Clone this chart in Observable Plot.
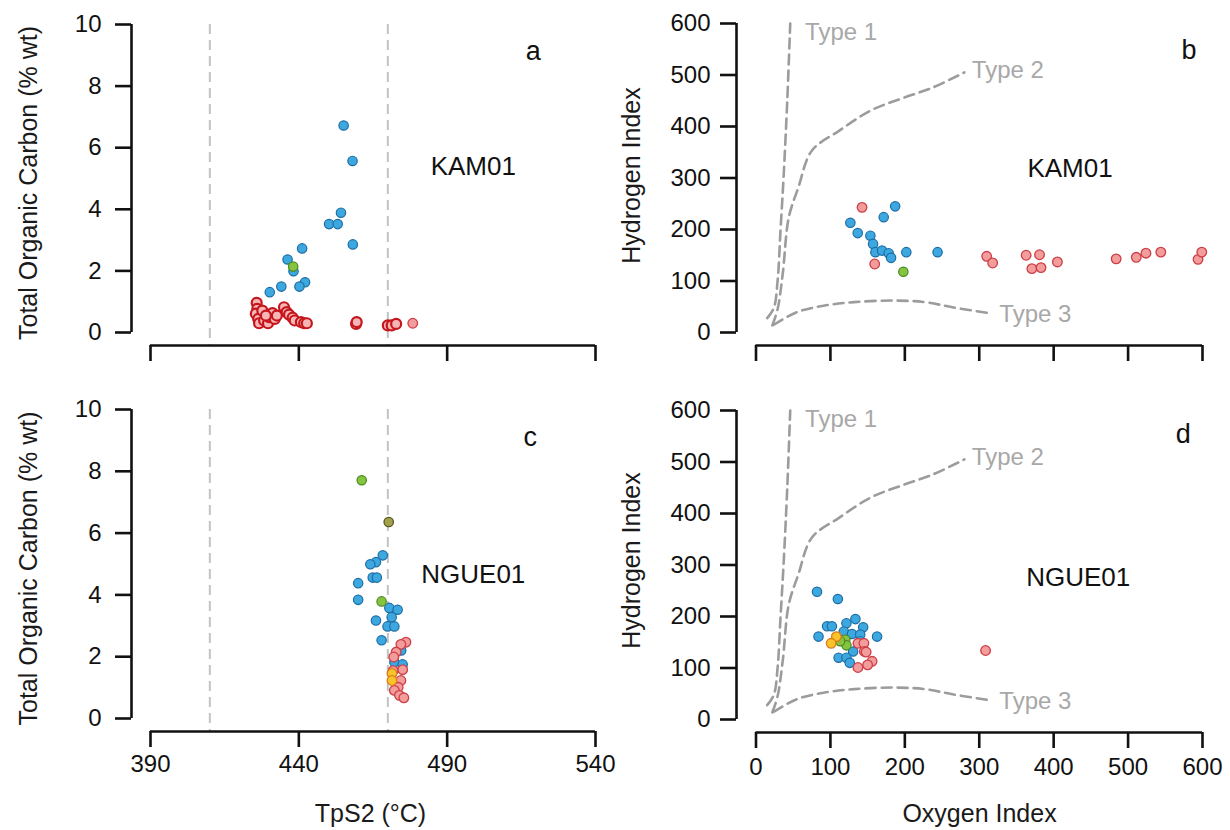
<!DOCTYPE html>
<html><head><meta charset="utf-8">
<script src="https://cdn.jsdelivr.net/npm/d3@7"></script>
<script src="https://cdn.jsdelivr.net/npm/@observablehq/plot@0.6"></script>
<style>
body{margin:0;background:#fff;}
#wrap{position:relative;width:1230px;height:830px;overflow:hidden;}
#wrap svg{position:absolute;}
</style></head><body><div id="wrap"></div>
<script>
// ---------- axis ticks ----------
const tpsTicks = [390, 440, 490, 540];
const tocTicks = [0, 2, 4, 6, 8, 10];
const oiTicks = [0, 100, 200, 300, 400, 500, 600];
const hiTicks = [0, 100, 200, 300, 400, 500, 600];
const tpsRefLines = [410, 470];

// ---------- panel a: KAM01, TpS2 (°C) vs TOC (% wt) ----------
const kamTocBlue = [[455.1,6.72],[458.1,5.57],[454.2,3.89],[450.2,3.52],[453.1,3.52],[458.2,2.86],[441.1,2.73],[436.2,2.37],[438.2,1.99],[442.1,1.63],[440.2,1.49],[434.1,1.49],[430.2,1.31]];
const kamTocGreen = [[438.1,2.14]];
const kamTocRed = [[425.8,0.96],[426.0,0.77],[425.5,0.61],[426.3,0.44],[426.6,0.30],[427.7,0.71],[428.3,0.39],[429.6,0.30],[430.0,0.50],[431.1,0.63],[431.9,0.44],[432.6,0.55],[428.9,0.55],[435.0,0.82],[435.9,0.66],[436.7,0.58],[437.9,0.48],[438.6,0.39],[440.7,0.34],[441.8,0.30],[442.7,0.30],[459.3,0.28],[459.5,0.34],[470.0,0.23],[471.3,0.23],[472.8,0.28]];
const kamTocPink = [[478.4,0.30]];

// ---------- panel b: KAM01, Oxygen Index vs Hydrogen Index ----------
const kamHiBlue = [[187,245],[171.6,224],[126.8,213],[136.7,193],[153.7,188],[157.3,172],[160.4,156],[169.4,159],[178.3,154],[181.5,145],[202,156],[244,156]];
const kamHiGreen = [[198,118]];
const kamHiPink = [[142.5,243],[159.5,133],[310,148],[318,135],[363,150],[381,151],[370.7,124],[383,126],[405,137],[484,143],[511,146],[524,154],[544,156],[594,142],[599,156]];

// ---------- panel c: NGUE01, TpS2 (°C) vs TOC (% wt) ----------
const ngueTocBlue = [[468.3,5.28],[466.0,5.06],[464.1,4.99],[464.9,4.56],[466.3,4.56],[460.0,4.38],[460.0,3.84],[470.5,3.58],[473.3,3.52],[471.3,3.28],[466.0,3.17],[469.9,2.98],[472.2,2.98],[467.9,2.53],[474.5,2.2],[472.2,1.82],[475.0,1.75]];
const ngueTocGreen = [[461.2,7.71],[467.9,3.79]];
const ngueTocOlive = [[470.3,6.36]];
const ngueTocPink = [[476.1,2.47],[474.4,2.40],[472.8,2.15],[472.0,1.99],[475.0,1.58],[471.8,1.55],[474.4,1.23],[473.5,1.01],[472.2,0.91],[473.9,0.75],[475.4,0.67]];
const ngueTocYellow = [[471.4,1.46],[471.4,1.23]];

// ---------- panel d: NGUE01, Oxygen Index vs Hydrogen Index ----------
const ngueHiBlue = [[82,248],[110,234],[95.5,181],[102,181],[84,161],[121.5,187],[133.6,195],[118,171],[129,166],[144,179],[140,165],[162.7,161],[130.5,132],[111,120],[121.5,120],[126,110],[140,152]];
const ngueHiPink = [[137,148],[145,148],[145.6,132],[148,131],[156,113],[150,106],[137,101],[308.5,134]];
const ngueHiGreen = [[120,155],[121.5,144],[113,152]];
const ngueHiYellow = [[108,161],[101,148]];

// ---------- kerogen type reference curves (OI, HI) ----------
const type1Curve = [[15,28],[24,48],[29,100],[33,200],[37,300],[42,450],[46,600]];
const type2Curve = [[22,14],[29,45],[36,115],[44,223],[57,282],[75,353],[112,392],[154,431],[195,454],[238,476],[280,505]];
const type3Curve = [[24,15],[54,39],[91,52],[132,59],[185,62],[227,59],[264,49],[311,38]];
const typeLabels = ["Type 1", "Type 2", "Type 3"];

// ---------- styling ----------
const FONT = '"Liberation Sans", Arial, Helvetica, sans-serif';
const AX = "#111";
const S = {
  blue:   {fill: "#3da7df", stroke: "#1d6ea6", strokeWidth: 1.2, r: 4.7},
  red:    {fill: "#f6b6b6", stroke: "#c5161d", strokeWidth: 2.2, r: 5},
  pink:   {fill: "#f39c9c", stroke: "#cc3f46", strokeWidth: 1.3, r: 4.8},
  green:  {fill: "#86c440", stroke: "#4a8a22", strokeWidth: 1.2, r: 4.7},
  olive:  {fill: "#a3a24a", stroke: "#575722", strokeWidth: 1.3, r: 4.7},
  yellow: {fill: "#f7c52b", stroke: "#de7a18", strokeWidth: 1.3, r: 4.8}
};
const xy = {x: d => d[0], y: d => d[1]};
const dots = (data, st) => Plot.dot(data, {...xy, ...st});

function place(svg, left, top) {
  svg.style.left = left + "px";
  svg.style.top = top + "px";
  document.getElementById("wrap").appendChild(svg);
}

function tocPlot({bottom, layers, letter, letterAt, site, siteAt}) {
  const height = bottom ? 430 : 400;
  const xd = [tpsTicks[0], tpsTicks[tpsTicks.length - 1]];
  const yd = [tocTicks[0], tocTicks[tocTicks.length - 1]];
  return Plot.plot({
    width: 615, height,
    marginLeft: 131, marginRight: 20,
    marginTop: bottom ? 9 : 24, marginBottom: bottom ? 99 : 55,
    style: {fontFamily: FONT, color: AX, background: "transparent", overflow: "visible"},
    x: {domain: xd, insetLeft: 19, label: null},
    y: {domain: yd, insetBottom: 13, label: null},
    marks: [
      Plot.ruleX(tpsRefLines, {stroke: "#c2c2c2", strokeWidth: 2, strokeDasharray: "10,6"}),
      Plot.ruleX([xd[0]], {y1: yd[0], y2: yd[1], dx: -19, stroke: AX, strokeWidth: 2.6}),
      Plot.ruleY([yd[0]], {x1: xd[0], x2: xd[1], dy: 13, stroke: AX, strokeWidth: 2.6}),
      Plot.axisY({ticks: tocTicks, tickSize: 16, tickPadding: 14, fontSize: 24, strokeWidth: 2.6, label: null}),
      Plot.axisX({ticks: tpsTicks, tickSize: 16, tickPadding: 7, fontSize: 24, strokeWidth: 2.6, label: null,
        tickFormat: bottom ? (d => String(d)) : (() => "")}),
      Plot.text(["Total Organic Carbon (% wt)"], {frameAnchor: "left", textAnchor: "middle", lineAnchor: "middle", dx: -103, dy: -2, rotate: -90, fontSize: 25, fill: "#1a1a1a"}),
      ...(bottom ? [Plot.text(["TpS2 (°C)"], {frameAnchor: "bottom", textAnchor: "middle", lineAnchor: "middle", dx: 7, dy: 82, fontSize: 25, fill: "#1a1a1a"})] : []),
      ...layers,
      Plot.text([letter], {x: letterAt[0], y: letterAt[1], fontSize: 27, fill: "#111"}),
      Plot.text([site], {x: siteAt[0], y: siteAt[1], fontSize: 26, fill: "#111"})
    ]
  });
}

function hiPlot({bottom, layers, letter, letterAt, site, siteAt}) {
  const height = bottom ? 430 : 400;
  const xd = [oiTicks[0], oiTicks[oiTicks.length - 1]];
  const yd = [hiTicks[0], hiTicks[hiTicks.length - 1]];
  const curve = c => Plot.line(c, {...xy, curve: "catmull-rom", stroke: "#9c9c9c", strokeWidth: 2.6, strokeDasharray: "10,6"});
  return Plot.plot({
    width: 615, height,
    marginLeft: 121, marginRight: 28,
    marginTop: bottom ? 10 : 23, marginBottom: bottom ? 98 : 55,
    style: {fontFamily: FONT, color: AX, background: "transparent", overflow: "visible"},
    x: {domain: xd, insetLeft: 19.5, label: null},
    y: {domain: yd, insetBottom: 13, label: null},
    marks: [
      curve(type1Curve), curve(type2Curve), curve(type3Curve),
      Plot.text([typeLabels[0]], {x: 66, y: 582, textAnchor: "start", fontSize: 24, fill: "#a8a8a8"}),
      Plot.text([typeLabels[1]], {x: 290, y: 509, textAnchor: "start", fontSize: 24, fill: "#a8a8a8"}),
      Plot.text([typeLabels[2]], {x: 327, y: 36, textAnchor: "start", fontSize: 24, fill: "#a8a8a8"}),
      Plot.ruleX([xd[0]], {y1: yd[0], y2: yd[1], dx: -19.5, stroke: AX, strokeWidth: 2.6}),
      Plot.ruleY([yd[0]], {x1: xd[0], x2: xd[1], dy: 13, stroke: AX, strokeWidth: 2.6}),
      Plot.axisY({ticks: hiTicks, tickSize: 16, tickPadding: 10, fontSize: 24, strokeWidth: 2.6, label: null}),
      Plot.axisX({ticks: oiTicks, tickSize: 16, tickPadding: 9, fontSize: 24, strokeWidth: 2.6, label: null,
        tickFormat: bottom ? (d => String(d)) : (() => "")}),
      Plot.text(["Hydrogen Index"], {frameAnchor: "left", textAnchor: "middle", lineAnchor: "middle", dx: -105, dy: bottom ? -11 : -9, rotate: -90, fontSize: 25, fill: "#1a1a1a"}),
      ...(bottom ? [Plot.text(["Oxygen Index"], {frameAnchor: "bottom", textAnchor: "middle", lineAnchor: "middle", dx: 10, dy: 81, fontSize: 25, fill: "#1a1a1a"})] : []),
      ...layers,
      Plot.text([letter], {x: letterAt[0], y: letterAt[1], fontSize: 27, fill: "#111"}),
      Plot.text([site], {x: siteAt[0], y: siteAt[1], fontSize: 26, fill: "#111"})
    ]
  });
}

place(tocPlot({
  bottom: false, letter: "a", letterAt: [519, 9.12], site: "KAM01", siteAt: [498.8, 5.39],
  layers: [dots(kamTocRed, S.red), dots(kamTocPink, S.pink), dots(kamTocBlue, S.blue), dots(kamTocGreen, S.green)]
}), 0, 0);

place(hiPlot({
  bottom: false, letter: "b", letterAt: [582, 548], site: "KAM01", siteAt: [422, 318],
  layers: [dots(kamHiPink, S.pink), dots(kamHiBlue, S.blue), dots(kamHiGreen, S.green)]
}), 615, 0);

place(tocPlot({
  bottom: true, letter: "c", letterAt: [518, 9.1], site: "NGUE01", siteAt: [498.8, 4.66],
  layers: [dots(ngueTocBlue, S.blue), dots(ngueTocPink, S.pink), dots(ngueTocGreen, S.green), dots(ngueTocOlive, S.olive), dots(ngueTocYellow, S.yellow)]
}), 0, 400);

place(hiPlot({
  bottom: true, letter: "d", letterAt: [574, 554], site: "NGUE01", siteAt: [433, 276],
  layers: [dots(ngueHiBlue, S.blue), dots(ngueHiPink, S.pink), dots(ngueHiGreen, S.green), dots(ngueHiYellow, S.yellow)]
}), 615, 400);
</script>
</body></html>
